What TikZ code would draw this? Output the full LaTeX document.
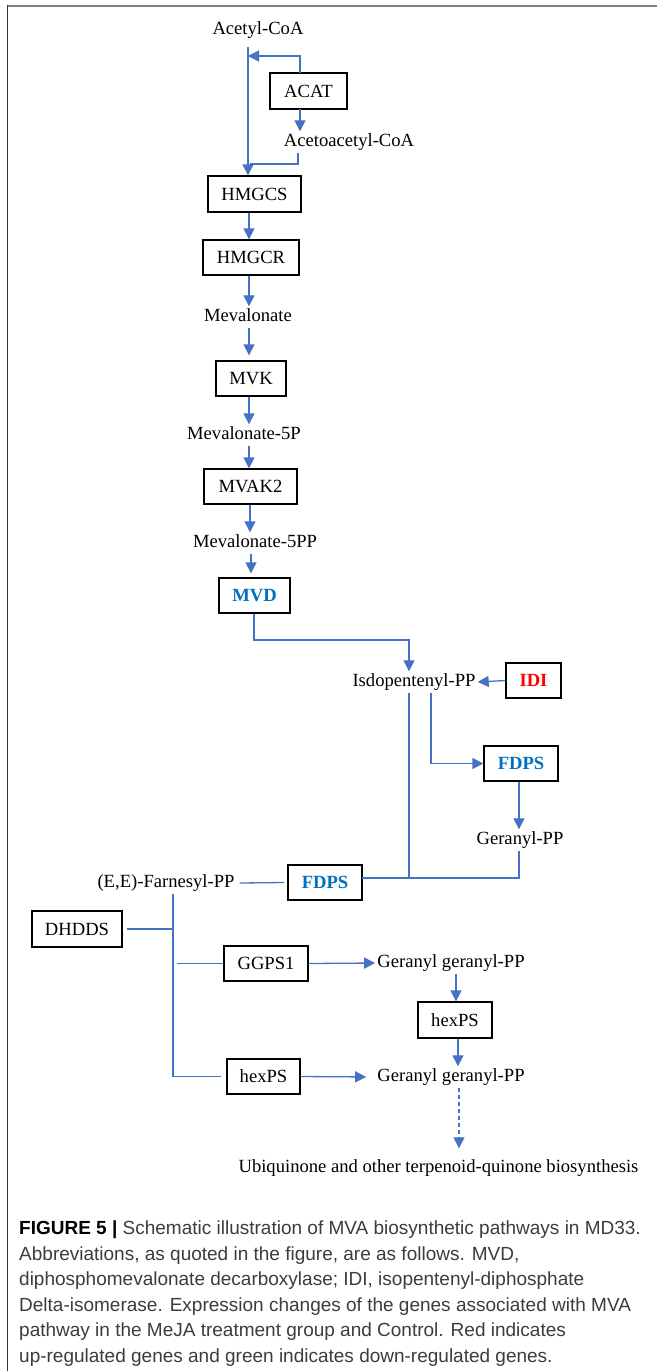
\documentclass[tikz,border=0pt]{standalone}
\usepackage{fontspec}
\setmainfont{Liberation Serif}
\newfontfamily\capfont{Liberation Sans}
\usetikzlibrary{arrows.meta}
\definecolor{lnblue}{HTML}{4472C4}
\definecolor{genblue}{HTML}{0070C0}
\definecolor{genred}{HTML}{FF0000}
\definecolor{framegray}{HTML}{808080}
\definecolor{capgray}{HTML}{3C3C3C}
\begin{document}
\begin{tikzpicture}[x=1pt,y=-1pt,
  every node/.style={font=\fontsize{18.6}{22}\selectfont},
  met/.style={inner sep=2pt, text height=13pt, text depth=4pt},
  gbox/.style={draw=black, line width=1.3pt, fill=white, inner sep=0pt, text height=12.5pt, text depth=0pt},
  upg/.style={text=genred, font=\fontsize{18.6}{22}\selectfont\bfseries},
  dng/.style={text=genblue, font=\fontsize{18.6}{22}\selectfont\bfseries},
  link/.style={draw=lnblue, line width=1.3pt},
  arr/.style={link, -{Triangle[length=11pt,width=11pt]}},
  capline/.style={anchor=base west, inner sep=0pt, text=capgray, font=\capfont\fontsize{19}{22}\selectfont}
]
\useasboundingbox (0,0) rectangle (657,1371);
% frame
\draw[framegray, line width=1.8pt] (7.3,5.8) -- (657,5.8);
\draw[black!80, line width=1.1pt] (7.8,5) -- (7.8,1371);

% nodes
\node[met] (acetyl) at (258,30) {Acetyl-CoA};
\node[gbox, minimum width=77pt, minimum height=36pt] (acat) at (308.5,91) {ACAT};
\node[met] (acetoa) at (349,142) {Acetoacetyl-CoA};
\node[gbox, minimum width=93pt, minimum height=36pt] (hmgcs) at (254.5,194) {HMGCS};
\node[gbox, minimum width=96pt, minimum height=35pt] (hmgcr) at (251,257.5) {HMGCR};
\node[met] (meva) at (248,317) {Mevalonate};
\node[gbox, minimum width=70pt, minimum height=35pt] (mvk) at (251,378.5) {MVK};
\node[met] (mev5p) at (244,435) {Mevalonate-5P};
\node[gbox, minimum width=93pt, minimum height=35pt] (mvak2) at (250.5,486.5) {MVAK2};
\node[met] (mev5pp) at (255,543) {Mevalonate-5PP};
\node[gbox, dng, minimum width=71pt, minimum height=35pt] (mvd) at (254.5,595.5) {MVD};
\node[met] (ipp) at (414,682) {Isdopentenyl-PP};
\node[gbox, upg, minimum width=55pt, minimum height=35pt] (idi) at (533.5,680.5) {IDI};
\node[gbox, dng, minimum width=74pt, minimum height=35pt] (fdpsa) at (521,763.5) {FDPS};
\node[met] (gpp) at (520,840) {Geranyl-PP};
\node[gbox, dng, minimum width=74pt, minimum height=35pt] (fdpsb) at (325,882.5) {FDPS};
\node[met] (fpp) at (166,883) {(E,E)-Farnesyl-PP};
\node[gbox, minimum width=90pt, minimum height=36pt] (dhdds) at (77,929) {DHDDS};
\node[gbox, minimum width=84pt, minimum height=35pt] (ggps1) at (266,963.5) {GGPS1};
\node[met] (ggppa) at (451,963) {Geranyl geranyl-PP};
\node[gbox, minimum width=74pt, minimum height=36pt] (hexpsb) at (455,1020) {hexPS};
\node[met] (ggppb) at (451,1077) {Geranyl geranyl-PP};
\node[gbox, minimum width=73pt, minimum height=35pt] (hexpsa) at (263.5,1076.5) {hexPS};
\node[met] (ubi) at (438.5,1168) {Ubiquinone and other terpenoid-quinone biosynthesis};

% helper coordinates
\coordinate (vA) at (248,47);
\coordinate (jA) at (248,56);
\coordinate (jB) at (250,164);
\coordinate (acatN) at (300,73);
\coordinate (acatS) at (300,109);
\coordinate (aoS) at (298,153);
\coordinate (c249) at (249,0);
\coordinate (c250) at (250,0);
\coordinate (c251) at (251,0);
\coordinate (c254) at (254,0);
\coordinate (cMV) at (409,640);
\coordinate (c431) at (431,0);
\coordinate (c519) at (519,0);
\coordinate (c409) at (409,0);
\coordinate (jG) at (362,878);
\coordinate (c173) at (173,0);
\coordinate (c177) at (177,0);
\coordinate (c456) at (456,0);
\coordinate (c458) at (458,0);
\coordinate (c459) at (459,0);

% connectors
\draw[arr] (vA) -- (vA |- hmgcs.north);
\draw[arr] (acatN) |- (jA);
\draw[arr] (acatS) -- (acatS |- acetoa.north);
\draw[link] (aoS) |- (jB);
\draw[arr] (hmgcs.south -| c249) -- (hmgcr.north -| c249);
\draw[arr] (hmgcr.south -| c249) -- (meva.north -| c249);
\draw[arr, shorten >=5pt] (meva.south -| c249) -- (mvk.north -| c249);
\draw[arr] (mvk.south -| c249) -- (mev5p.north -| c249);
\draw[arr] (mev5p.south -| c249) -- (mvak2.north -| c249);
\draw[arr] (mvak2.south -| c250) -- (mev5pp.north -| c250);
\draw[arr, shorten >=4pt] (mev5pp.south -| c251) -- (mvd.north -| c251);
\draw[arr] (mvd.south -| c254) |- (cMV) -- (cMV |- ipp.north);
\draw[arr] (idi.west) -- (ipp.east);
\draw[arr] (ipp.south -| c431) |- (fdpsa.west);
\draw[arr] (fdpsa.south -| c519) -- (gpp.north -| c519);
\draw[link] (gpp.south -| c519) |- (jG);
\draw[link] (ipp.south -| c409) -- (jG -| c409);
\draw[link] ([xshift=-3pt]fdpsb.west) -- ([xshift=3pt]fpp.east);
\draw[link] (fpp.south -| c173) |- ([xshift=-5pt]hexpsa.west);
\draw[link] ([xshift=4pt]dhdds.east) -- (dhdds.east -| c173);
\draw[link] (ggps1.west -| c177) -- (ggps1.west);
\draw[arr] (ggps1.east) -- (ggppa.west);
\draw[arr] (ggppa.south -| c456) -- (hexpsb.north -| c456);
\draw[arr] (hexpsb.south -| c458) -- (ggppb.north -| c458);
\draw[arr, shorten >=9pt] (hexpsa.east) -- (ggppb.west);
\draw[arr, dash pattern=on 4pt off 3pt, shorten >=9pt] (ggppb.south -| c459) -- (ubi.north -| c459);

% caption
\node[capline] (cap1) at (19,1234) {{\color{black}\bfseries FIGURE 5 |} Schematic illustration of MVA biosynthetic pathways in MD33.};
\node[capline] (cap2) at (19,1260) {Abbreviations, as quoted in the figure, are as follows. MVD,};
\node[capline] (cap3) at (19,1285) {diphosphomevalonate decarboxylase; IDI, isopentenyl-diphosphate};
\node[capline] (cap4) at (19,1311) {Delta-isomerase. Expression changes of the genes associated with MVA};
\node[capline] (cap5) at (19,1336) {pathway in the MeJA treatment group and Control. Red indicates};
\node[capline] (cap6) at (19,1362) {up-regulated genes and green indicates down-regulated genes.};
\end{tikzpicture}
\end{document}
